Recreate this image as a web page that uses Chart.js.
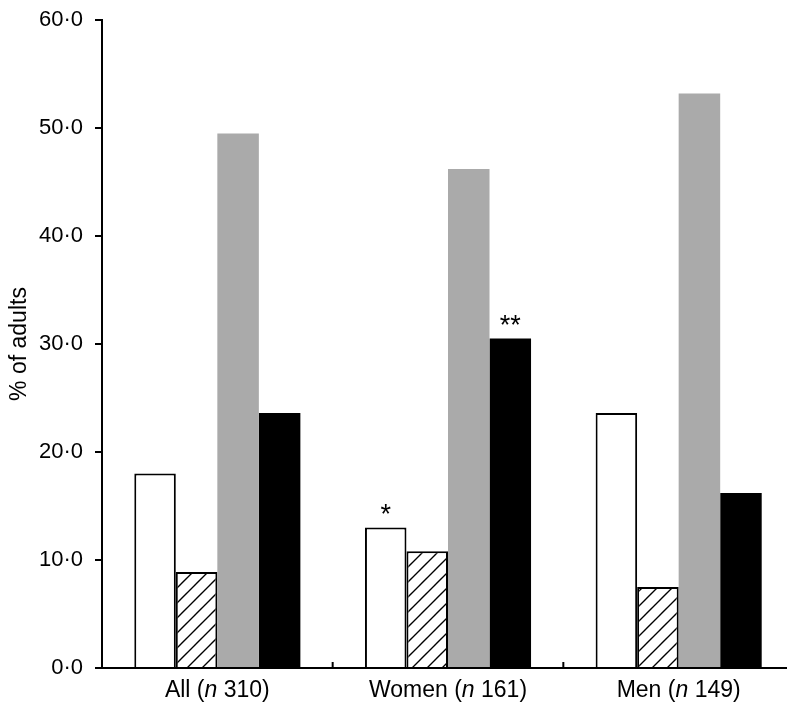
<!DOCTYPE html>
<html>
<head>
<meta charset="utf-8">
<script src="https://cdn.jsdelivr.net/npm/chart.js@4"></script>
<style>
  html, body { margin: 0; padding: 0; background: #fff; overflow: hidden; }
  #wrap { width: 794px; height: 707px; position: relative; }
</style>
</head>
<body>
<div id="wrap"><canvas id="chart"></canvas></div>
<script>
// groups on the x axis: label before the italic n, then the count
const groupNames = ['All', 'Women', 'Men'];
const groupCounts = ['310', '161', '149'];

// four series (white, hatched, grey, black)
const seriesWhite = [18.0, 13.0, 23.6];
const seriesHatched = [8.9, 10.8, 7.5];
const seriesGrey = [49.5, 46.2, 53.2];
const seriesBlack = [23.6, 30.5, 16.2];

const yTicks = [0, 10, 20, 30, 40, 50, 60];

// significance marks: [dataset index, group index, text]
const marks = [[0, 1, '*'], [3, 1, '**']];

function hatchPattern() {
  const c = document.createElement('canvas');
  c.width = 15; c.height = 15;
  const g = c.getContext('2d');
  g.fillStyle = '#fff';
  g.fillRect(0, 0, 15, 15);
  g.strokeStyle = '#000';
  g.lineWidth = 1.4;
  g.beginPath();
  g.moveTo(-2, 17); g.lineTo(17, -2);
  g.moveTo(-10, 10); g.lineTo(10, -10);
  g.moveTo(5, 25); g.lineTo(25, 5);
  g.stroke();
  return g.createPattern(c, 'repeat');
}

const family = '"Liberation Sans", Arial, sans-serif';
const labelFont = '23px ' + family;
const italicFont = 'italic 23px ' + family;

const extras = {
  id: 'extras',
  afterDraw(chart) {
    const ctx = chart.ctx;
    const x = chart.scales.x;
    const area = chart.chartArea;
    ctx.save();
    // small inward ticks at group boundaries
    ctx.strokeStyle = '#000';
    ctx.lineWidth = 2;
    for (let i = 1; i < groupNames.length; i++) {
      const px = (x.getPixelForValue(i - 1) + x.getPixelForValue(i)) / 2;
      ctx.beginPath();
      ctx.moveTo(px, area.bottom);
      ctx.lineTo(px, area.bottom - 6);
      ctx.stroke();
    }
    // group labels with italic n
    ctx.fillStyle = '#000';
    ctx.textBaseline = 'middle';
    groupNames.forEach((name, i) => {
      const a = name + ' (';
      const b = 'n';
      const c = ' ' + groupCounts[i] + ')';
      ctx.font = labelFont;
      const wa = ctx.measureText(a).width;
      const wc = ctx.measureText(c).width;
      ctx.font = italicFont;
      const wb = ctx.measureText(b).width;
      const px = x.getPixelForValue(i) - (wa + wb + wc) / 2;
      const py = area.bottom + 23;
      ctx.textAlign = 'left';
      ctx.font = labelFont;
      ctx.fillText(a, px, py);
      ctx.font = italicFont;
      ctx.fillText(b, px + wa, py);
      ctx.font = labelFont;
      ctx.fillText(c, px + wa + wb, py);
    });
    // asterisks
    ctx.font = '27px ' + family;
    ctx.textAlign = 'center';
    ctx.textBaseline = 'alphabetic';
    marks.forEach(([d, i, t]) => {
      const bar = chart.getDatasetMeta(d).data[i];
      ctx.fillText(t, bar.x, bar.y - 5);
    });
    ctx.restore();
  }
};

new Chart(document.getElementById('chart'), {
  type: 'bar',
  data: {
    labels: groupNames,
    datasets: [{
      data: seriesWhite,
      backgroundColor: '#fff',
      borderColor: '#000',
      borderWidth: 2
    }, {
      data: seriesHatched,
      backgroundColor: hatchPattern(),
      borderColor: '#000',
      borderWidth: 2
    }, {
      data: seriesGrey,
      backgroundColor: '#aaaaaa',
      borderWidth: 0
    }, {
      data: seriesBlack,
      backgroundColor: '#000',
      borderWidth: 0
    }]
  },
  options: {
    responsive: true,
    maintainAspectRatio: false,
    animation: false,
    layout: { padding: { top: 20, bottom: 39, left: 0, right: 0 } },
    plugins: { legend: { display: false }, tooltip: { enabled: false } },
    datasets: { bar: { categoryPercentage: 0.72, barPercentage: 1.0 } },
    scales: {
      x: {
        ticks: { display: false },
        grid: { display: false, drawTicks: false },
        border: { color: '#000', width: 2 }
      },
      y: {
        min: 0,
        max: 60,
        afterBuildTicks: (s) => { s.ticks = yTicks.map(v => ({ value: v })); },
        afterFit: (s) => { s.width = 102; s.paddingTop = 0; s.paddingBottom = 0; },
        ticks: {
          color: '#000',
          padding: 12,
          font: { family: family, size: 22 },
          callback: (v) => v.toFixed(1).replace('.', '\u00b7')
        },
        grid: { drawOnChartArea: false, drawTicks: true, tickLength: 7, color: '#000', lineWidth: 2 },
        border: { color: '#000', width: 2 },
        title: {
          display: true,
          text: '% of adults',
          color: '#000',
          padding: { top: 6, bottom: 0 },
          font: { family: family, size: 23 }
        }
      }
    }
  },
  plugins: [extras]
});
</script>
</body>
</html>
